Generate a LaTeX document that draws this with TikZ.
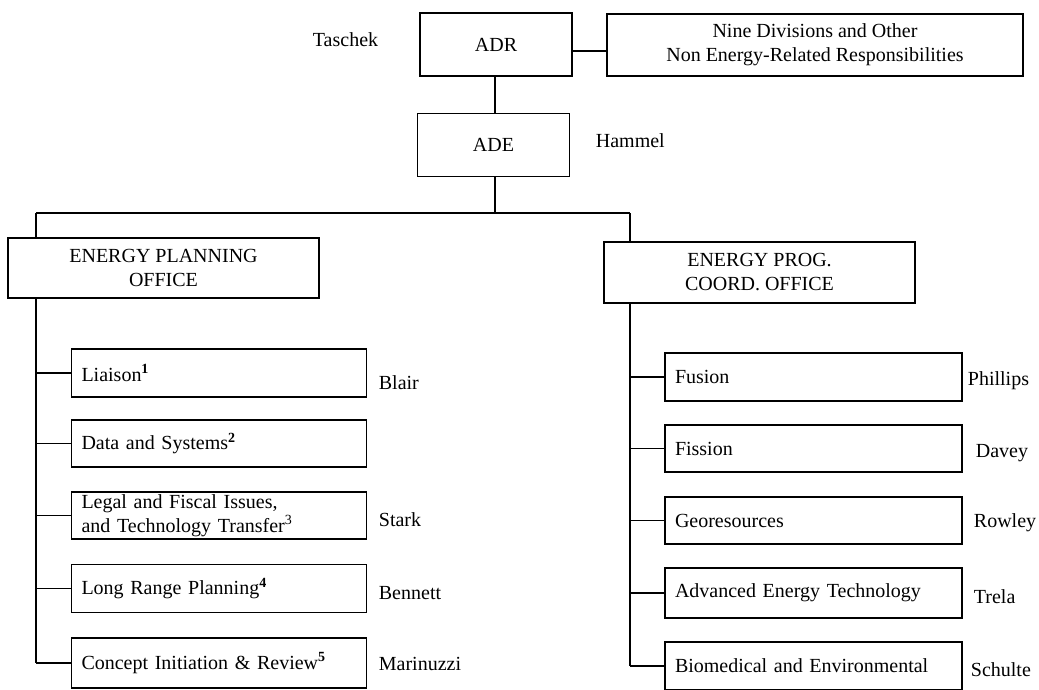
\documentclass[tikz,border=0pt]{standalone}
\usepackage{fontspec}
\setmainfont{Liberation Serif}
\begin{document}
\begin{tikzpicture}[x=1pt, y=-1pt, line width=1.8pt,
    every node/.style={font=\fontsize{20}{24}\selectfont, inner sep=0pt},
    topbox/.style={draw, minimum width=152pt, minimum height=63pt},
    officebox/.style={draw, align=center, minimum width=311pt, minimum height=60pt},
    unitbox/.style={draw, align=left, inner xsep=10pt, text width=275pt, minimum height=48pt},
    head/.style={anchor=west}]
    \useasboundingbox (0,0) rectangle (1039,689);
        \draw
            (496, 44.5) node [topbox] (ADR) {ADR}
            (493.5, 145) node [topbox] (ADE) {ADE}
            (815, 45) node [draw, align=center, minimum width=416pt, minimum height=62pt] (nine)
                {Nine Divisions and Other\\Non Energy-Related Responsibilities}
            (163.5, 268) node [officebox] (EPO) {ENERGY PLANNING\\OFFICE}
            (759.5, 272.5) node [officebox, minimum height=61pt] (EPCO) {ENERGY PROG.\\COORD. OFFICE}

            (312, 40) node [head] (taschek) {Taschek}
            (595, 141) node [head] (hammel) {Hammel}

            % planning office units
            (219, 373) node [unitbox] (liaison) {Liaison\textsuperscript{\bfseries 1}}
            (219, 443.5) node [unitbox, minimum height=47pt] (data) {Data and Systems\textsuperscript{\bfseries 2}}
            (219, 515.5) node [unitbox, minimum height=47pt] (legal)
                {Legal and Fiscal Issues,\\and Technology Transfer\textsuperscript{3}}
            (219, 588.5) node [unitbox] (longrange) {Long Range Planning\textsuperscript{\bfseries 4}}
            (219, 663) node [unitbox, minimum height=50pt] (concept) {Concept Initiation \& Review\textsuperscript{\bfseries 5}}

            (378, 383) node [head] (blair) {Blair}
            (378, 520) node [head] (stark) {Stark}
            (378, 593) node [head] (bennett) {Bennett}
            (378, 664) node [head] (marinuzzi) {Marinuzzi}

            % coordination office units
            (813.5, 377) node [unitbox, text width=277pt] (fusion) {Fusion}
            (813.5, 448.5) node [unitbox, text width=277pt, minimum height=47pt] (fission) {Fission}
            (813.5, 520.5) node [unitbox, text width=277pt, minimum height=47pt] (geo) {Georesources}
            (813.5, 593) node [unitbox, text width=277pt, minimum height=50pt] (advanced) {Advanced Energy Technology}
            (813.5, 666) node [unitbox, text width=277pt] (biomed) {Biomedical and Environmental}

            (967, 381) node [head] (phillips) {Phillips}
            (975, 453) node [head] (davey) {Davey}
            (973, 523) node [head] (rowley) {Rowley}
            (973, 597) node [head] (trela) {Trela}
            (970, 670) node [head] (schulte) {Schulte}
            ;
        \coordinate (split) at (495, 213);
        \coordinate (lbus) at (36, 213);
        \coordinate (rbus) at (630, 213);
        \draw ([yshift=-6.5pt]ADR.east) -- ([yshift=-6.5pt]ADR.east -| nine.west);
        \draw (ADR.south -| split) -- (ADE.north -| split);
        \draw (ADE.south -| split) -- (split);
        \draw (lbus) -- (rbus);
        \draw (lbus) -- (lbus |- EPO.north);
        \draw (rbus) -- (rbus |- EPCO.north);
        \draw (lbus |- EPO.south) -- (lbus |- concept.west);
        \draw (rbus |- EPCO.south) -- (rbus |- biomed.west);
        \foreach \u in {liaison, data, legal, longrange, concept}
            \draw (lbus |- \u.west) -- (\u.west);
        \foreach \u in {fusion, fission, geo, advanced, biomed}
            \draw (rbus |- \u.west) -- (\u.west);
    \end{tikzpicture}
\end{document}
